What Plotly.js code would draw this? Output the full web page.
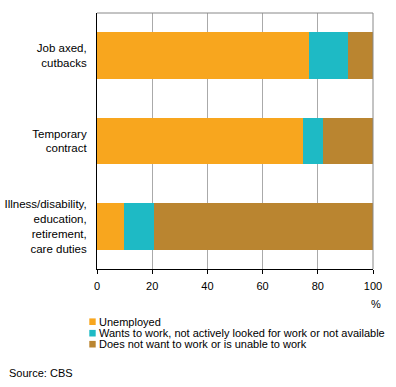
<!DOCTYPE html>
<html><head><meta charset="utf-8">
<script src="https://cdn.plot.ly/plotly-3.0.1.min.js"></script>
<style>html,body{margin:0;padding:0;background:#fff;}#chart{width:396px;height:387px;}</style>
</head><body><div id="chart"></div>
<script>
const categories = ["Job axed,<br>cutbacks", "Temporary<br>contract", "Illness/disability,<br>education,<br>retirement,<br>care duties"];
const seriesNames = ["Unemployed", "Wants to work, not actively looked for work or not available", "Does not want to work or is unable to work"];
const unemployed = [76.7, 74.5, 9.7];
const wantsToWork = [14.1, 7.4, 10.9];
const doesNotWant = [9.2, 18.1, 79.4];
const xTicks = [0, 20, 40, 60, 80, 100];
const colors = ["#F8A61E", "#1EBAC5", "#BA8530"];

const W = 396, H = 387;
const M = {l: 97, r: 23, t: 13, b: 118};
const PH = H - M.t - M.b;
const PW = W - M.l - M.r;
const py = p => (H - M.b - p) / PH;
const px = p => (p - M.l) / PW;

const values = [unemployed, wantsToWork, doesNotWant];
const data = values.map((v, i) => ({
  type: 'bar', orientation: 'h', x: v, y: categories, name: seriesNames[i],
  marker: {color: colors[i], line: {width: 0}}, hoverinfo: 'none'
}));

const font = {family: 'Liberation Sans, Arial, sans-serif', size: 11, color: '#000'};
const shapes = [
  {type: 'line', xref: 'paper', yref: 'paper', x0: 0, x1: 1, y0: 1, y1: 1, line: {color: '#888', width: 1}},
  {type: 'line', xref: 'paper', yref: 'paper', x0: 1, x1: 1, y0: 0, y1: 1, line: {color: '#888', width: 1}}
];
const annotations = [
  {xref: 'paper', yref: 'paper', x: px(376), y: py(303.5), text: '%', showarrow: false, xanchor: 'center', yanchor: 'middle', font: font},
  {xref: 'paper', yref: 'paper', x: px(7), y: py(373), text: 'Source: CBS', showarrow: false, xanchor: 'left', yanchor: 'middle', font: font}
];
const rowY = [321.7, 333.2, 344.2];
seriesNames.forEach((n, i) => {
  shapes.push({type: 'rect', xref: 'paper', yref: 'paper', x0: px(89.3), x1: px(95.7), y0: py(rowY[i] - 3.3), y1: py(rowY[i] + 3.3), fillcolor: colors[i], line: {width: 0}});
  annotations.push({xref: 'paper', yref: 'paper', x: px(97.5), y: py(rowY[i]), text: n, showarrow: false, xanchor: 'left', yanchor: 'middle', font: font, borderpad: 0});
});

const layout = {
  width: W, height: H, margin: M, showlegend: false,
  paper_bgcolor: '#fff', plot_bgcolor: '#fff', font: font,
  barmode: 'stack', bargap: 0.45,
  xaxis: {range: [0, 100], tickvals: xTicks, ticktext: xTicks.map(String), showgrid: true, gridcolor: '#AAAAAA', gridwidth: 1,
    showline: true, linecolor: '#000', linewidth: 1, ticks: 'outside', ticklen: 4, tickcolor: '#000', zeroline: false, fixedrange: true, tickfont: font,
    ticklabelstandoff: 3},
  yaxis: {type: 'category', autorange: 'reversed', showgrid: false, showline: true, linecolor: '#000', linewidth: 1, ticks: '', zeroline: false,
    tickfont: {family: font.family, size: 11.5, color: '#000'}, ticklabelstandoff: 7, fixedrange: true},
  shapes: shapes, annotations: annotations
};
Plotly.newPlot('chart', data, layout, {displayModeBar: false, staticPlot: true});
</script></body></html>
